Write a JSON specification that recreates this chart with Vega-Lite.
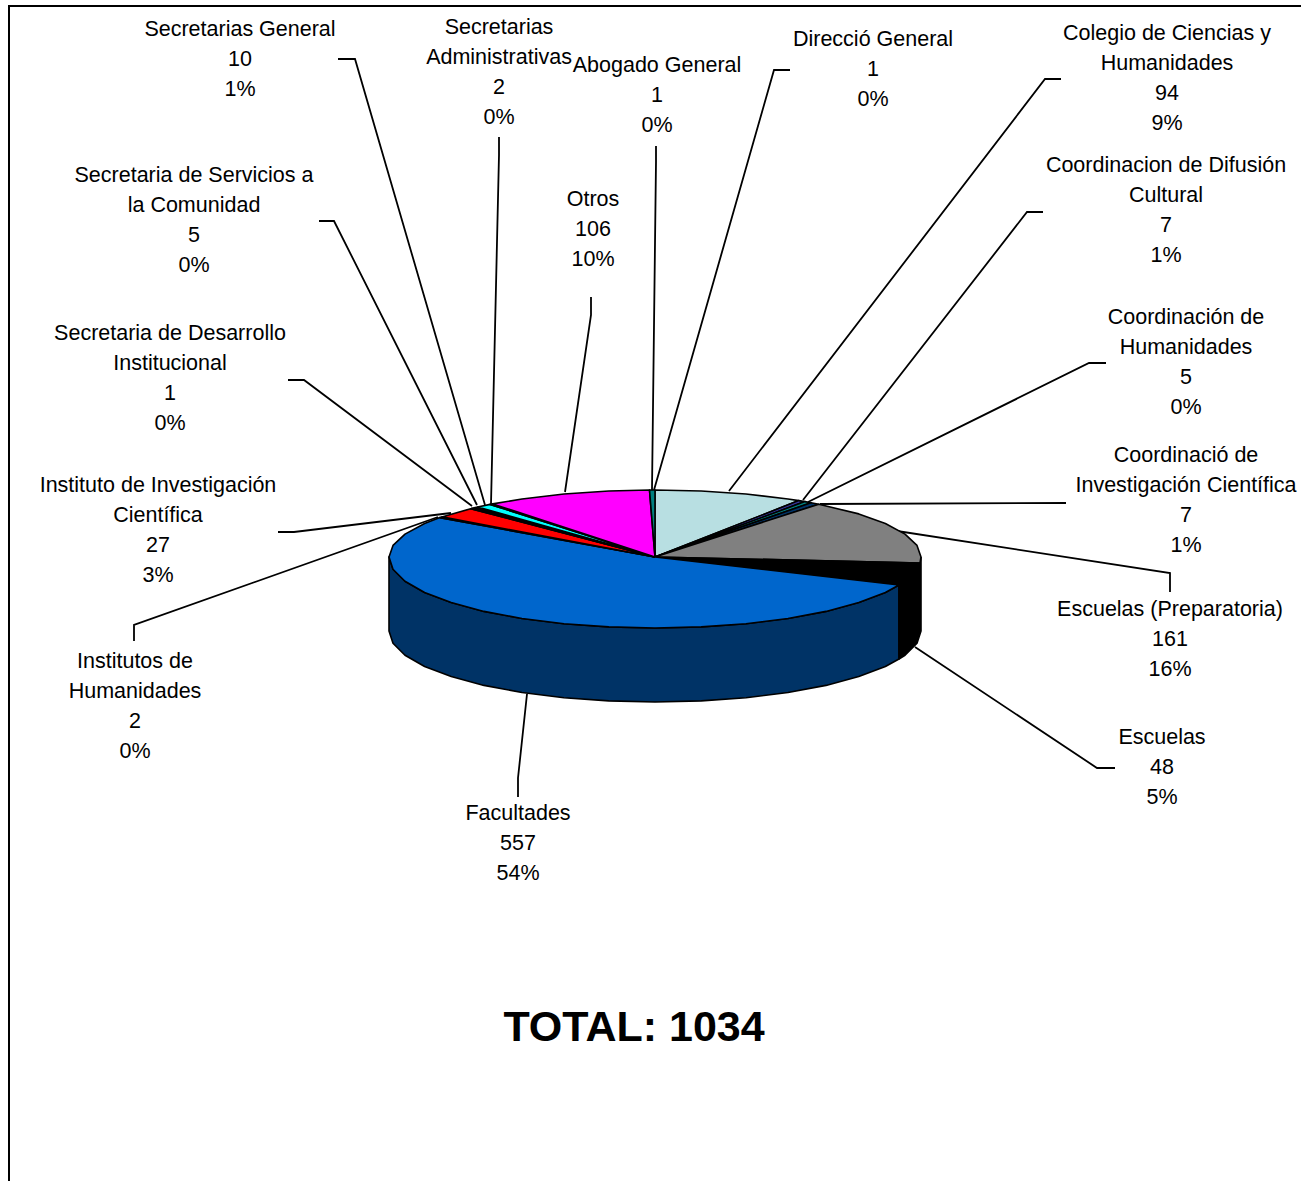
{"$schema":"https://vega.github.io/schema/vega-lite/v6.json","width":1301,"height":1181,"autosize":{"type":"none"},"padding":0,"background":"#ffffff","config":{"view":{"stroke":null}},
"datasets":{
"faces":[
{"s":"Facultades lado","i":1,"x":899,"y":585},{"s":"Facultades lado","i":2,"x":885.4,"y":592.5},{"s":"Facultades lado","i":3,"x":858.8,"y":602.6},{"s":"Facultades lado","i":4,"x":826,"y":611.4},{"s":"Facultades lado","i":5,"x":788,"y":618.5},{"s":"Facultades lado","i":6,"x":746,"y":623.7},{"s":"Facultades lado","i":7,"x":701.2,"y":626.9},{"s":"Facultades lado","i":8,"x":655,"y":628},{"s":"Facultades lado","i":9,"x":608.8,"y":626.9},{"s":"Facultades lado","i":10,"x":564,"y":623.7},{"s":"Facultades lado","i":11,"x":522,"y":618.5},{"s":"Facultades lado","i":12,"x":484,"y":611.4},{"s":"Facultades lado","i":13,"x":451.2,"y":602.6},{"s":"Facultades lado","i":14,"x":424.6,"y":592.5},{"s":"Facultades lado","i":15,"x":405,"y":581.3},{"s":"Facultades lado","i":16,"x":393,"y":569.3},{"s":"Facultades lado","i":17,"x":389,"y":557},{"s":"Facultades lado","i":18,"x":389,"y":631},{"s":"Facultades lado","i":19,"x":393,"y":643.3},{"s":"Facultades lado","i":20,"x":405,"y":655.3},{"s":"Facultades lado","i":21,"x":424.6,"y":666.5},{"s":"Facultades lado","i":22,"x":451.2,"y":676.6},{"s":"Facultades lado","i":23,"x":484,"y":685.4},{"s":"Facultades lado","i":24,"x":522,"y":692.5},{"s":"Facultades lado","i":25,"x":564,"y":697.7},{"s":"Facultades lado","i":26,"x":608.8,"y":700.9},{"s":"Facultades lado","i":27,"x":655,"y":702},{"s":"Facultades lado","i":28,"x":701.2,"y":700.9},{"s":"Facultades lado","i":29,"x":746,"y":697.7},{"s":"Facultades lado","i":30,"x":788,"y":692.5},{"s":"Facultades lado","i":31,"x":826,"y":685.4},{"s":"Facultades lado","i":32,"x":858.8,"y":676.6},{"s":"Facultades lado","i":33,"x":885.4,"y":666.5},{"s":"Facultades lado","i":34,"x":899,"y":659},{"s":"Facultades lado","i":35,"x":899,"y":585},
{"s":"Escuelas lado","i":1,"x":921,"y":557},{"s":"Escuelas lado","i":2,"x":921,"y":631},{"s":"Escuelas lado","i":3,"x":917,"y":643.3},{"s":"Escuelas lado","i":4,"x":905,"y":655.3},{"s":"Escuelas lado","i":5,"x":899,"y":659},{"s":"Escuelas lado","i":6,"x":899,"y":585},{"s":"Escuelas lado","i":7,"x":905,"y":581.3},{"s":"Escuelas lado","i":8,"x":917,"y":569.3},{"s":"Escuelas lado","i":9,"x":920,"y":563},{"s":"Escuelas lado","i":10,"x":921,"y":557},
{"s":"Colegio de Ciencias y Humanidades","i":1,"x":655,"y":557},{"s":"Colegio de Ciencias y Humanidades","i":2,"x":655,"y":490},{"s":"Colegio de Ciencias y Humanidades","i":3,"x":701.2,"y":491},{"s":"Colegio de Ciencias y Humanidades","i":4,"x":746,"y":494},{"s":"Colegio de Ciencias y Humanidades","i":5,"x":788,"y":499},{"s":"Colegio de Ciencias y Humanidades","i":6,"x":798.8,"y":500.6},{"s":"Colegio de Ciencias y Humanidades","i":7,"x":655,"y":557},
{"s":"Coordinacion de Difusión Cultural","i":1,"x":655,"y":557},{"s":"Coordinacion de Difusión Cultural","i":2,"x":798.8,"y":500.6},{"s":"Coordinacion de Difusión Cultural","i":3,"x":805,"y":501.6},{"s":"Coordinacion de Difusión Cultural","i":4,"x":655,"y":557},
{"s":"Coordinación de Humanidades","i":1,"x":655,"y":557},{"s":"Coordinación de Humanidades","i":2,"x":805,"y":501.6},{"s":"Coordinación de Humanidades","i":3,"x":811,"y":502.8},{"s":"Coordinación de Humanidades","i":4,"x":655,"y":557},
{"s":"Coordinació de Investigación Científica","i":1,"x":655,"y":557},{"s":"Coordinació de Investigación Científica","i":2,"x":811,"y":502.8},{"s":"Coordinació de Investigación Científica","i":3,"x":818.8,"y":504.2},{"s":"Coordinació de Investigación Científica","i":4,"x":655,"y":557},
{"s":"Escuelas (Preparatoria)","i":1,"x":655,"y":557},{"s":"Escuelas (Preparatoria)","i":2,"x":818.8,"y":504.2},{"s":"Escuelas (Preparatoria)","i":3,"x":858.8,"y":513.9},{"s":"Escuelas (Preparatoria)","i":4,"x":885.4,"y":523.5},{"s":"Escuelas (Preparatoria)","i":5,"x":905,"y":534.1},{"s":"Escuelas (Preparatoria)","i":6,"x":917,"y":545.4},{"s":"Escuelas (Preparatoria)","i":7,"x":921,"y":557},{"s":"Escuelas (Preparatoria)","i":8,"x":920,"y":563},{"s":"Escuelas (Preparatoria)","i":9,"x":655,"y":557},
{"s":"Escuelas","i":1,"x":655,"y":557},{"s":"Escuelas","i":2,"x":920,"y":563},{"s":"Escuelas","i":3,"x":917,"y":569.3},{"s":"Escuelas","i":4,"x":905,"y":581.3},{"s":"Escuelas","i":5,"x":899,"y":585},{"s":"Escuelas","i":6,"x":655,"y":557},
{"s":"Facultades","i":1,"x":655,"y":557},{"s":"Facultades","i":2,"x":899,"y":585},{"s":"Facultades","i":3,"x":885.4,"y":592.5},{"s":"Facultades","i":4,"x":858.8,"y":602.6},{"s":"Facultades","i":5,"x":826,"y":611.4},{"s":"Facultades","i":6,"x":788,"y":618.5},{"s":"Facultades","i":7,"x":746,"y":623.7},{"s":"Facultades","i":8,"x":701.2,"y":626.9},{"s":"Facultades","i":9,"x":655,"y":628},{"s":"Facultades","i":10,"x":608.8,"y":626.9},{"s":"Facultades","i":11,"x":564,"y":623.7},{"s":"Facultades","i":12,"x":522,"y":618.5},{"s":"Facultades","i":13,"x":484,"y":611.4},{"s":"Facultades","i":14,"x":451.2,"y":602.6},{"s":"Facultades","i":15,"x":424.6,"y":592.5},{"s":"Facultades","i":16,"x":405,"y":581.3},{"s":"Facultades","i":17,"x":393,"y":569.3},{"s":"Facultades","i":18,"x":389,"y":557},{"s":"Facultades","i":19,"x":393,"y":545.4},{"s":"Facultades","i":20,"x":405,"y":534.1},{"s":"Facultades","i":21,"x":424.6,"y":523.5},{"s":"Facultades","i":22,"x":439.9,"y":517.6},{"s":"Facultades","i":23,"x":655,"y":557},
{"s":"Institutos de Humanidades","i":1,"x":655,"y":557},{"s":"Institutos de Humanidades","i":2,"x":439.9,"y":517.6},{"s":"Institutos de Humanidades","i":3,"x":441.9,"y":516.9},{"s":"Institutos de Humanidades","i":4,"x":655,"y":557},
{"s":"Instituto de Investigación Científica","i":1,"x":655,"y":557},{"s":"Instituto de Investigación Científica","i":2,"x":441.9,"y":516.9},{"s":"Instituto de Investigación Científica","i":3,"x":470.7,"y":508.7},{"s":"Instituto de Investigación Científica","i":4,"x":655,"y":557},
{"s":"Secretaria de Desarrollo Institucional","i":1,"x":655,"y":557},{"s":"Secretaria de Desarrollo Institucional","i":2,"x":470.7,"y":508.7},{"s":"Secretaria de Desarrollo Institucional","i":3,"x":471.8,"y":508.4},{"s":"Secretaria de Desarrollo Institucional","i":4,"x":655,"y":557},
{"s":"Secretaria de Servicios a la Comunidad","i":1,"x":655,"y":557},{"s":"Secretaria de Servicios a la Comunidad","i":2,"x":471.8,"y":508.4},{"s":"Secretaria de Servicios a la Comunidad","i":3,"x":477.7,"y":507},{"s":"Secretaria de Servicios a la Comunidad","i":4,"x":655,"y":557},
{"s":"Secretarias General","i":1,"x":655,"y":557},{"s":"Secretarias General","i":2,"x":477.7,"y":507},{"s":"Secretarias General","i":3,"x":490.1,"y":504.4},{"s":"Secretarias General","i":4,"x":655,"y":557},
{"s":"Secretarias Administrativas","i":1,"x":655,"y":557},{"s":"Secretarias Administrativas","i":2,"x":490.1,"y":504.4},{"s":"Secretarias Administrativas","i":3,"x":492.7,"y":503.9},{"s":"Secretarias Administrativas","i":4,"x":655,"y":557},
{"s":"Otros","i":1,"x":655,"y":557},{"s":"Otros","i":2,"x":492.7,"y":503.9},{"s":"Otros","i":3,"x":522,"y":499},{"s":"Otros","i":4,"x":564,"y":494},{"s":"Otros","i":5,"x":608.8,"y":491},{"s":"Otros","i":6,"x":649.5,"y":490},{"s":"Otros","i":7,"x":655,"y":557},
{"s":"Abogado General y Direcció General","i":1,"x":655,"y":557},{"s":"Abogado General y Direcció General","i":2,"x":649.5,"y":490},{"s":"Abogado General y Direcció General","i":3,"x":655,"y":490},{"s":"Abogado General y Direcció General","i":4,"x":655,"y":557}
],
"lines":[
{"l":"Secretarias General","i":1,"x":338,"y":59},{"l":"Secretarias General","i":2,"x":355,"y":59},{"l":"Secretarias General","i":3,"x":485,"y":505},
{"l":"Secretarias Administrativas","i":1,"x":499,"y":137},{"l":"Secretarias Administrativas","i":2,"x":499,"y":155},{"l":"Secretarias Administrativas","i":3,"x":491,"y":504},
{"l":"Abogado General","i":1,"x":656,"y":146},{"l":"Abogado General","i":2,"x":656,"y":162},{"l":"Abogado General","i":3,"x":652,"y":490},
{"l":"Direcció General","i":1,"x":790,"y":70},{"l":"Direcció General","i":2,"x":774,"y":70},{"l":"Direcció General","i":3,"x":654,"y":490},
{"l":"Colegio","i":1,"x":1061,"y":79},{"l":"Colegio","i":2,"x":1045,"y":79},{"l":"Colegio","i":3,"x":729,"y":491},
{"l":"Difusion","i":1,"x":1043,"y":212},{"l":"Difusion","i":2,"x":1027,"y":212},{"l":"Difusion","i":3,"x":803,"y":500},
{"l":"Humanidades","i":1,"x":1106,"y":363},{"l":"Humanidades","i":2,"x":1089,"y":363},{"l":"Humanidades","i":3,"x":808,"y":502},
{"l":"Investigacion","i":1,"x":1066,"y":503},{"l":"Investigacion","i":2,"x":820,"y":504},
{"l":"Preparatoria","i":1,"x":1170,"y":592},{"l":"Preparatoria","i":2,"x":1170,"y":573},{"l":"Preparatoria","i":3,"x":897,"y":531},
{"l":"Escuelas","i":1,"x":1115,"y":768},{"l":"Escuelas","i":2,"x":1097,"y":768},{"l":"Escuelas","i":3,"x":915,"y":647},
{"l":"Facultades","i":1,"x":518,"y":797},{"l":"Facultades","i":2,"x":518,"y":778},{"l":"Facultades","i":3,"x":527,"y":694},
{"l":"Institutos","i":1,"x":134,"y":641},{"l":"Institutos","i":2,"x":134,"y":625},{"l":"Institutos","i":3,"x":438,"y":517},
{"l":"Instituto Inv","i":1,"x":278,"y":532},{"l":"Instituto Inv","i":2,"x":294,"y":532},{"l":"Instituto Inv","i":3,"x":451,"y":513},
{"l":"Desarrollo","i":1,"x":288,"y":380},{"l":"Desarrollo","i":2,"x":304,"y":380},{"l":"Desarrollo","i":3,"x":472,"y":506},
{"l":"Servicios","i":1,"x":319,"y":221},{"l":"Servicios","i":2,"x":334,"y":221},{"l":"Servicios","i":3,"x":477,"y":505},
{"l":"Otros","i":1,"x":591,"y":297},{"l":"Otros","i":2,"x":591,"y":315},{"l":"Otros","i":3,"x":565,"y":492}
],
"frame":[{"i":1,"x":9,"y":1181},{"i":2,"x":9,"y":6},{"i":3,"x":1301,"y":6}],
"labels":[
{"label":"Secretarias General\n10\n1%","x":240,"y":36},
{"label":"Secretarias\nAdministrativas\n2\n0%","x":499,"y":34},
{"label":"Abogado General\n1\n0%","x":657,"y":72},
{"label":"Direcció General\n1\n0%","x":873,"y":46},
{"label":"Colegio de Ciencias y\nHumanidades\n94\n9%","x":1167,"y":40},
{"label":"Coordinacion de Difusión\nCultural\n7\n1%","x":1166,"y":172},
{"label":"Coordinación de\nHumanidades\n5\n0%","x":1186,"y":324},
{"label":"Coordinació de\nInvestigación Científica\n7\n1%","x":1186,"y":462},
{"label":"Escuelas (Preparatoria)\n161\n16%","x":1170,"y":616},
{"label":"Escuelas\n48\n5%","x":1162,"y":744},
{"label":"Facultades\n557\n54%","x":518,"y":820},
{"label":"Institutos de\nHumanidades\n2\n0%","x":135,"y":668},
{"label":"Instituto de Investigación\nCientífica\n27\n3%","x":158,"y":492},
{"label":"Secretaria de Desarrollo\nInstitucional\n1\n0%","x":170,"y":340},
{"label":"Secretaria de Servicios a\nla Comunidad\n5\n0%","x":194,"y":182},
{"label":"Otros\n106\n10%","x":593,"y":206}
],
"total":[{"label":"TOTAL: 1034","x":634,"y":1041}]
},
"layer":[
{"data":{"name":"frame"},"mark":{"type":"line","stroke":"#000000","strokeWidth":2,"clip":false},"encoding":{"x":{"field":"x","type":"quantitative","scale":{"domain":[0,1301],"nice":false,"zero":false},"axis":null},"y":{"field":"y","type":"quantitative","scale":{"domain":[1181,0],"nice":false,"zero":false},"axis":null},"order":{"field":"i"}}},
{"data":{"name":"lines"},"mark":{"type":"line","stroke":"#000000","strokeWidth":1.8},"encoding":{"x":{"field":"x","type":"quantitative","axis":null},"y":{"field":"y","type":"quantitative","axis":null},"detail":{"field":"l"},"order":{"field":"i"}}},
{"data":{"name":"faces"},"mark":{"type":"line","stroke":"#000000","strokeWidth":1.6,"strokeJoin":"round"},"encoding":{"x":{"field":"x","type":"quantitative","axis":null},"y":{"field":"y","type":"quantitative","axis":null},"fill":{"field":"s","type":"nominal","legend":null,"scale":{"domain":["Facultades lado","Escuelas lado","Colegio de Ciencias y Humanidades","Coordinacion de Difusión Cultural","Coordinación de Humanidades","Coordinació de Investigación Científica","Escuelas (Preparatoria)","Escuelas","Facultades","Institutos de Humanidades","Instituto de Investigación Científica","Secretaria de Desarrollo Institucional","Secretaria de Servicios a la Comunidad","Secretarias General","Secretarias Administrativas","Otros","Abogado General y Direcció General"],"range":["#003366","#000000","#B8DFE2","#333399","#008080","#003366","#808080","#000000","#0066CC","#969696","#FF0000","#003300","#000000","#00FFFF","#008080","#FF00FF","#008080"]}},"order":{"field":"i"}}},
{"data":{"name":"labels"},"mark":{"type":"text","font":"Liberation Sans","fontSize":21.5,"lineHeight":30,"lineBreak":"\n","align":"center","baseline":"alphabetic","color":"#000000"},"encoding":{"x":{"field":"x","type":"quantitative","axis":null},"y":{"field":"y","type":"quantitative","axis":null},"text":{"field":"label"}}},
{"data":{"name":"total"},"mark":{"type":"text","font":"Liberation Sans","fontSize":43,"fontWeight":"bold","align":"center","baseline":"alphabetic","color":"#000000"},"encoding":{"x":{"field":"x","type":"quantitative","axis":null},"y":{"field":"y","type":"quantitative","axis":null},"text":{"field":"label"}}}
]}
